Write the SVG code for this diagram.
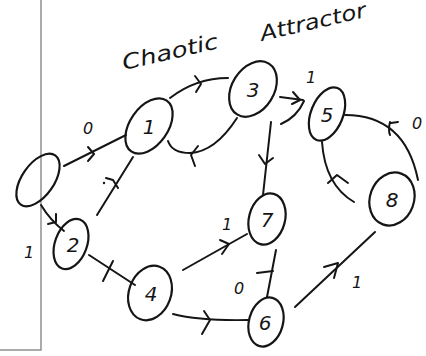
<svg xmlns="http://www.w3.org/2000/svg" width="426" height="356" viewBox="0 0 426 356">
  <style>
    .node ellipse { fill: none; stroke: #151515; stroke-width: 2.2; }
    .node text { font-family: "DejaVu Sans", sans-serif; font-style: italic; font-size: 20px; fill: #151515; text-anchor: middle; }
    .edge { fill: none; stroke: #151515; stroke-width: 2; stroke-linecap: round; stroke-linejoin: round; }
    .lbl { font-family: "DejaVu Sans", sans-serif; font-style: italic; font-size: 16px; fill: #151515; text-anchor: middle; }
    .title { font-family: "DejaVu Sans", sans-serif; font-style: italic; font-size: 21px; fill: #151515; }
    .frame { fill: none; stroke: #909090; stroke-width: 1.5; }
  </style>
  <rect width="426" height="356" fill="#ffffff"/>

  <!-- page frame -->
  <polyline class="frame" points="41,0 41,350 0,350"/>

  <!-- title -->
  <text class="title" x="124" y="70" textLength="98" lengthAdjust="spacingAndGlyphs" transform="rotate(-13 124 70)">Chaotic</text>
  <text class="title" x="262" y="41" textLength="108" lengthAdjust="spacingAndGlyphs" transform="rotate(-13 262 41)">Attractor</text>

  <!-- connectors -->
  <g id="connectors">
    <!-- 0 -> 1 -->
    <path class="edge" d="M64,166 L126,135"/>
    <polyline class="edge" points="88,147 94,154 88,161"/>
    <text class="lbl" x="88" y="134">0</text>
    <!-- 0 -> 2 -->
    <path class="edge" d="M41,205 Q50,220 64,231"/>
    <polyline class="edge" points="56,214 56,222 48,224"/>
    <text class="lbl" x="29" y="258">1</text>
    <!-- 1 -> 3 -->
    <path class="edge" d="M170,98 Q196,78 228,78"/>
    <polyline class="edge" points="195,76 201,84 196,92"/>
    <!-- 3 -> 1 -->
    <path class="edge" d="M237,118 Q215,152 190,153 Q172,153 168,141"/>
    <polyline class="edge" points="198,146 191,155 195,166"/>
    <!-- 1 - 2 -->
    <path class="edge" d="M133,157 L97,215"/>
    <polyline class="edge" points="106,178 113,180 118,188"/>
    <circle cx="104" cy="183" r="1.2" fill="#151515"/>
    <!-- 2 -> 4 -->
    <path class="edge" d="M89,255 L135,285"/>
    <path class="edge" d="M113,261 L103,281"/>
    <!-- 3 -> 5 -->
    <path class="edge" d="M280,97 L303,100"/>
    <polyline class="edge" points="293,92 300,100 292,104"/>
    <path class="edge" d="M304,101 Q297,117 281,124"/>
    <text class="lbl" x="311" y="83">1</text>
    <!-- 3 -> 7 -->
    <path class="edge" d="M271,122 L263,195"/>
    <polyline class="edge" points="259,155 265,164 273,158"/>
    <!-- 5 -> 8 -->
    <path class="edge" d="M345,115 Q405,115 418,180"/>
    <path class="edge" d="M391,123 L398,122 M390,122 Q388,130 390,135"/>
    <text class="lbl" x="417" y="129">0</text>
    <!-- 8 -> 5 -->
    <path class="edge" d="M322,142 Q325,185 354,202"/>
    <polyline class="edge" points="328,183 337,175 348,183"/>
    <!-- 4 -> 7 -->
    <path class="edge" d="M183,270 L247,234"/>
    <polyline class="edge" points="220,240 229,244 222,254"/>
    <text class="lbl" x="227" y="230">1</text>
    <!-- 4 -> 6 -->
    <path class="edge" d="M173,314 Q200,321 248,320"/>
    <polyline class="edge" points="204,311 210,320 202,334"/>
    <!-- 7 - 6 -->
    <path class="edge" d="M276,250 L267,297"/>
    <path class="edge" d="M257,273 L273,271"/>
    <text class="lbl" x="239" y="294">0</text>
    <!-- 6 -> 8 -->
    <path class="edge" d="M295,307 L375,232"/>
    <polyline class="edge" points="324,267 338,263 334,278"/>
    <text class="lbl" x="357" y="288">1</text>
  </g>

  <!-- nodes -->
  <g id="node-0" class="node">
    <ellipse cx="38" cy="180" rx="16" ry="30" transform="rotate(35 38 180)"/>
  </g>
  <g id="node-1" class="node">
    <ellipse cx="149" cy="126" rx="19" ry="31" transform="rotate(35 149 126)"/>
    <text x="149" y="134">1</text>
  </g>
  <g id="node-2" class="node">
    <ellipse cx="71" cy="244" rx="16" ry="26" transform="rotate(20 71 244)"/>
    <text x="73" y="252">2</text>
  </g>
  <g id="node-3" class="node">
    <ellipse cx="253" cy="89" rx="21" ry="30" transform="rotate(32 253 89)"/>
    <text x="253" y="97">3</text>
  </g>
  <g id="node-4" class="node">
    <ellipse cx="150" cy="293" rx="21" ry="28" transform="rotate(20 150 293)"/>
    <text x="151" y="301">4</text>
  </g>
  <g id="node-5" class="node">
    <ellipse cx="327" cy="114" rx="16" ry="28" transform="rotate(22 327 114)"/>
    <text x="327" y="122">5</text>
  </g>
  <g id="node-6" class="node">
    <ellipse cx="266" cy="322" rx="17" ry="25" transform="rotate(15 266 322)"/>
    <text x="265" y="330">6</text>
  </g>
  <g id="node-7" class="node">
    <ellipse cx="267" cy="219" rx="18" ry="26" transform="rotate(15 267 219)"/>
    <text x="267" y="227">7</text>
  </g>
  <g id="node-8" class="node">
    <ellipse cx="392" cy="199" rx="22" ry="27" transform="rotate(20 392 199)"/>
    <text x="392" y="207">8</text>
  </g>
</svg>
